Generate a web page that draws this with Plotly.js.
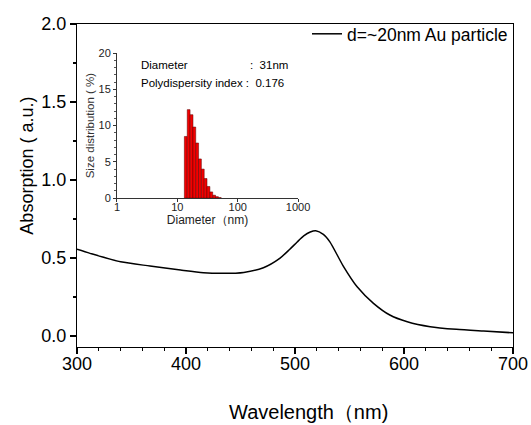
<!DOCTYPE html>
<html>
<head>
<meta charset="utf-8">
<script src="https://cdn.plot.ly/plotly-3.0.1.min.js"></script>
<style>html,body{margin:0;padding:0;background:#fff;}#chart{width:531px;height:425px;}</style>
</head>
<body>
<div id="chart"></div>
<script>
// Main UV-Vis absorption spectrum
const wavelength = [300, 312, 340, 367, 395, 416, 434, 453, 471, 486, 495, 502, 508, 514, 519, 526, 532, 544, 557, 572, 587, 603, 624, 648, 673, 700];
const absorption = [0.556, 0.530, 0.476, 0.449, 0.423, 0.406, 0.402, 0.408, 0.438, 0.498, 0.555, 0.603, 0.642, 0.667, 0.675, 0.652, 0.604, 0.452, 0.316, 0.210, 0.135, 0.092, 0.060, 0.043, 0.032, 0.021];
const seriesName = 'd=~20nm Au particle';
const xTitle = 'Wavelength（nm)';
const yTitle = 'Absorption ( a.u.)';

// Inset DLS size distribution
const diameterNm = [13.8, 15.4, 17.2, 19.1, 21.3, 23.7, 26.4, 29.4, 32.8, 36.5, 40.7, 45.3, 50.5];
const sizePercent = [8.5, 12.2, 11.5, 9.8, 7.6, 5.4, 4.0, 2.7, 1.6, 0.85, 0.4, 0.2, 0.07];
const insetTickVals = [1, 10, 100, 1000];
const insetTickText = ['1', '10', '100', '1000'];

const FONT = 'Liberation Sans, Arial, sans-serif';

const traces = [
  {
    x: wavelength, y: absorption, type: 'scatter', mode: 'lines',
    name: seriesName,
    line: {color: '#000', width: 1.5, shape: 'spline', smoothing: 0.7},
    xaxis: 'x', yaxis: 'y'
  },
  {
    x: diameterNm.map(d => Math.log10(d)), y: sizePercent, type: 'bar',
    width: 0.047, showlegend: false,
    marker: {color: '#f40000', line: {color: '#500', width: 0.5}},
    xaxis: 'x2', yaxis: 'y2'
  }
];

const layout = {
  width: 531, height: 425,
  margin: {l: 77, r: 18, t: 24, b: 78},
  paper_bgcolor: '#fff', plot_bgcolor: '#fff',
  font: {family: FONT, color: '#000'},
  showlegend: true,
  legend: {x: 1, y: 1.025, xanchor: 'right', yanchor: 'top', bgcolor: 'rgba(0,0,0,0)',
           font: {size: 17.5, family: FONT}, borderwidth: 0},
  bargap: 0,
  xaxis: {
    domain: [0, 1], anchor: 'y', range: [300, 700], tick0: 300, dtick: 100,
    ticks: 'outside', ticklen: 6, tickwidth: 1.2, tickcolor: '#000',
    minor: {dtick: 20, ticks: 'outside', ticklen: 3, tickcolor: '#000'},
    showline: true, linecolor: '#000', linewidth: 1.2, mirror: true,
    showgrid: false, zeroline: false, ticklabelstandoff: -6,
    tickfont: {size: 18, family: FONT}
  },
  yaxis: {
    domain: [0, 1], anchor: 'x', range: [-0.07, 2.0], tick0: 0, dtick: 0.5, tickformat: '.1f',
    ticks: 'outside', ticklen: 6, tickwidth: 1.2, tickcolor: '#000',
    minor: {dtick: 0.25, ticks: 'outside', ticklen: 3, tickcolor: '#000'},
    showline: true, linecolor: '#000', linewidth: 1.2, mirror: true,
    showgrid: false, zeroline: false,
    tickfont: {size: 18, family: FONT}
  },
  xaxis2: {
    domain: [0.0917, 0.507], anchor: 'y2', range: [0, 3],
    tickvals: insetTickVals.map(v => Math.log10(v)), ticktext: insetTickText,
    ticks: 'outside', ticklen: 3, tickwidth: 1, tickcolor: '#333',
    showline: true, linecolor: '#333', linewidth: 1, mirror: false,
    showgrid: false, zeroline: false, ticklabelstandoff: -4,
    tickfont: {size: 11, family: FONT, color: '#222'},
    title: {text: 'Diameter（nm)', font: {size: 12, family: FONT, color: '#222'}, standoff: 0}
  },
  yaxis2: {
    domain: [0.461, 0.910], anchor: 'x2', range: [0, 20], dtick: 5,
    ticks: 'outside', ticklen: 3, tickwidth: 1, tickcolor: '#333',
    minor: {dtick: 1, ticks: 'outside', ticklen: 2, tickcolor: '#555'},
    showline: true, linecolor: '#333', linewidth: 1, mirror: false,
    showgrid: false, zeroline: false,
    tickfont: {size: 11, family: FONT, color: '#222'},
    title: {text: 'Size distribution ( %)', font: {size: 11.5, family: FONT, color: '#333'}, standoff: 1}
  },
  annotations: [
    {xref: 'paper', yref: 'paper', x: 0.530, y: -0.201, xanchor: 'center', yanchor: 'middle', showarrow: false,
     text: xTitle, font: {size: 20, family: FONT, color: '#000'}},
    {xref: 'paper', yref: 'paper', x: -0.1135, y: 0.560, xanchor: 'center', yanchor: 'middle', showarrow: false,
     textangle: -90, text: yTitle, font: {size: 18, family: FONT, color: '#000'}},
    {xref: 'paper', yref: 'paper', x: 0.142, y: 0.873, xanchor: 'left', yanchor: 'middle', showarrow: false,
     text: 'Diameter', font: {size: 11.5, family: FONT, color: '#000'}},
    {xref: 'paper', yref: 'paper', x: 0.3915, y: 0.873, xanchor: 'left', yanchor: 'middle', showarrow: false,
     text: ':  31nm', font: {size: 11.5, family: FONT, color: '#000'}},
    {xref: 'paper', yref: 'paper', x: 0.142, y: 0.818, xanchor: 'left', yanchor: 'middle', showarrow: false,
     text: 'Polydispersity index :  0.176', font: {size: 11.5, family: FONT, color: '#000'}}
  ]
};

Plotly.newPlot('chart', traces, layout, {displayModeBar: false, staticPlot: true});
</script>
</body>
</html>
